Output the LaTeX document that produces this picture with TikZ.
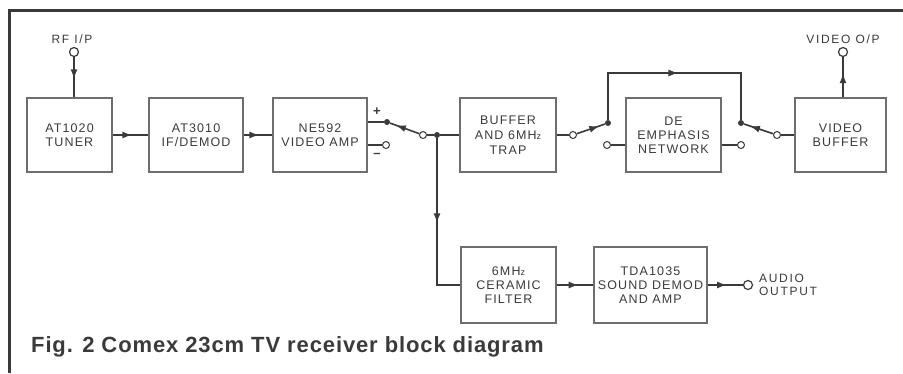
\documentclass[tikz,border=0pt]{standalone}
\usepackage{fontspec}
\setmainfont{Liberation Sans}
\newfontfamily\labfont[LetterSpace=9]{Liberation Sans}
\newfontfamily\tagfont[LetterSpace=14]{Liberation Sans}
\newfontfamily\capfont[LetterSpace=4]{Liberation Sans}
\usetikzlibrary{arrows.meta,decorations.markings}
\definecolor{ink}{HTML}{3A3A3A}
\definecolor{boxgray}{HTML}{6E6E6E}
\begin{document}
\begin{tikzpicture}[x=1pt,y=-1pt,
  blk/.style={draw=boxgray, line width=1.2pt, minimum height=74pt, text=ink,
    font=\labfont\fontsize{12.5}{13.5}\selectfont, align=center, inner sep=0pt},
  wire/.style={draw=ink, line width=1.6pt},
  midarrow/.style={postaction={decorate}, decoration={markings,
    mark=at position #1 with {\arrow{Latex[length=10pt,width=7pt]}}}},
  opencirc/.style={circle, draw=ink, line width=1pt, fill=white, minimum size=7pt, inner sep=0pt},
  bigcirc/.style={circle, draw=ink, line width=1.2pt, fill=white, minimum size=9pt, inner sep=0pt},
  dot/.style={circle, fill=ink, minimum size=6pt, inner sep=0pt},
  lbl/.style={text=ink, font=\tagfont\fontsize{12}{13}\selectfont, inner sep=0pt}
]
\useasboundingbox (0,0) rectangle (903,373);
% frame
\draw[ink, line width=3pt] (9,10) -- (903,10);
\draw[ink, line width=3pt] (9,8.5) -- (9,373);

% blocks
\node[blk, minimum width=85pt] (tuner) at (69.5,135) {AT1020\\TUNER};
\node[blk, minimum width=94pt] (ifd) at (196,135) {AT3010\\IF/DEMOD};
\node[blk, minimum width=94pt] (amp) at (320,135) {NE592\\VIDEO AMP};
\node[blk, minimum width=96pt, font=\labfont\fontsize{12.5}{15}\selectfont] (buf) at (508,135) {BUFFER\\AND 6MH{\fontsize{9}{10}\selectfont z}\\TRAP};
\node[blk, minimum width=95pt, font=\labfont\fontsize{12.5}{14}\selectfont] (deemph) at (673.5,135) {DE\\EMPHASIS\\NETWORK};
\node[blk, minimum width=91pt] (vbuf) at (840.5,135) {VIDEO\\BUFFER};
\node[blk, minimum width=95pt, minimum height=76pt, font=\labfont\fontsize{12.5}{14}\selectfont] (cer) at (508.5,285) {6MH{\fontsize{9}{10}\selectfont z}\\CERAMIC\\FILTER};
\node[blk, minimum width=113pt, minimum height=76pt, font=\labfont\fontsize{12.5}{14}\selectfont] (tda) at (650.5,285) {TDA1035\\SOUND DEMOD\\AND AMP};

% RF input
\node[bigcirc] (rfc) at (74,52) {};
\node[lbl, anchor=south] (rflab) at (72,44) {RF I/P};
\draw[wire, midarrow=0.55] (rfc) -- (rfc |- tuner.north);

\draw[wire, midarrow=0.55] (tuner) -- (ifd);
\draw[wire, midarrow=0.55] (ifd) -- (amp);

% NE592 outputs and switch
\node[dot] (p1) at (387,122) {};
\node[opencirc] (m1) at (386,145) {};
\node[opencirc] (c1) at (423,135) {};
\node[dot] (j1) at (437,135) {};
\node[lbl, font=\bfseries\fontsize{13}{13}\selectfont] (plus) at (377,112) {+};
\node[lbl, font=\bfseries\fontsize{13}{13}\selectfont] (minus) at (377,155) {--};
\draw[wire] (amp.east |- p1) -- (p1);
\draw[wire] (amp.east |- m1) -- (m1);
\draw[wire, midarrow=0.8] (c1) -- (p1);
\draw[wire] (c1) -- (j1);
\draw[wire] (j1) -- (buf.west |- j1);
\coordinate (k1) at (437,285);
\draw[wire, midarrow=0.5] (j1) -- (k1) -- (cer.west |- k1);

% buffer output switch and de-emphasis bypass
\node[opencirc] (c2) at (573,135) {};
\node[dot] (p2) at (608,123) {};
\node[opencirc] (c3) at (607,145) {};
\node[opencirc] (c4) at (741,145) {};
\node[dot] (p3) at (741,123) {};
\node[opencirc] (c5) at (777,135) {};
\coordinate (t1) at (608,73);
\coordinate (t2) at (741,73);
\draw[wire] (buf.east |- c2) -- (c2);
\draw[wire, midarrow=0.8] (c2) -- (p2);
\draw[wire] (p2) -- (t1) -- (t2) -- (p3);
\draw[wire, midarrow=0.53] (t1) -- (t2);
\draw[wire] (c3) -- (deemph.west |- c3);
\draw[wire] (deemph.east |- c4) -- (c4);
\draw[wire, midarrow=0.8] (c5) -- (p3);
\draw[wire] (c5) -- (vbuf.west |- c5);

% video output
\node[bigcirc] (voc) at (843,52) {};
\node[lbl, anchor=south] (volab) at (843,44) {VIDEO O/P};
\draw[wire, midarrow=0.6] (vbuf.north -| voc) -- (voc);

% sound path
\draw[wire, midarrow=0.6] (cer) -- (tda);
\node[bigcirc] (aoc) at (748,285) {};
\draw[wire, midarrow=0.55] (tda) -- (aoc);
\node[lbl, anchor=west, align=left] (aolab) at (759,285) {AUDIO\\OUTPUT};

% caption
\node[anchor=base west, inner sep=0pt, text=ink, font=\capfont\bfseries\fontsize{22}{24}\selectfont] (cap) at (31,352) {Fig. 2 Comex 23cm TV receiver block diagram};
\end{tikzpicture}
\end{document}
